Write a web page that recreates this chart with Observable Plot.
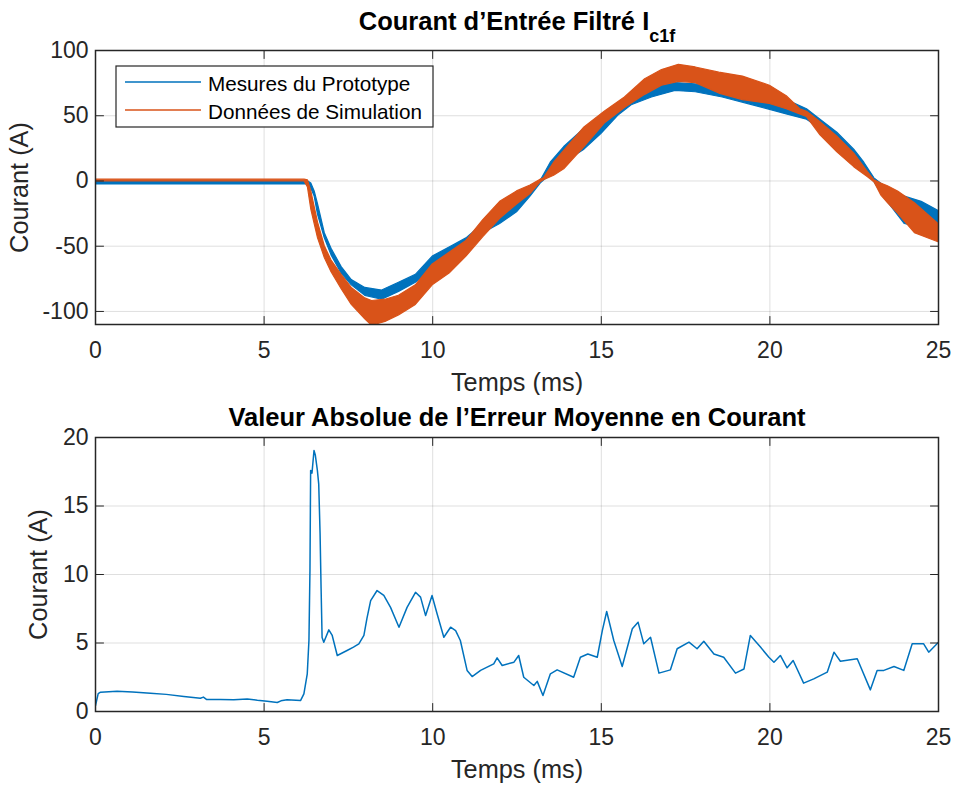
<!DOCTYPE html>
<html>
<head>
<meta charset="utf-8">
<script src="https://cdn.jsdelivr.net/npm/d3@7"></script>
<script src="https://cdn.jsdelivr.net/npm/@observablehq/plot@0.6"></script>
<style>
  body { margin: 0; background: #fff; }
  #root { position: relative; width: 955px; height: 785px; background: #fff; overflow: hidden; }
  #root > svg { position: absolute; left: 0; }
</style>
</head>
<body>
<div id="root"></div>
<script>
// ---------- data ----------
const BLUE = "#0072BD";
const ORANGE = "#D95319";
const INK = "#262626";

const timeTicks = [0, 5, 10, 15, 20, 25];
const topYTicks = [-100, -50, 0, 50, 100];
const botYTicks = [0, 5, 10, 15, 20];

const seriesNames = ["Mesures du Prototype", "Données de Simulation"];

// Simulation (orange) band: time (ms), lower and upper envelope (A)
const simT  = [0, 6.2, 6.3, 6.4, 6.5, 6.6, 6.8, 7.0, 7.3, 7.6, 8.0, 8.2, 8.6, 9.0, 9.5, 10.0, 10.5, 11.0, 11.5, 12.0, 12.5, 12.9, 13.2, 13.3, 13.6, 13.9, 14.5, 15.1, 15.7, 16.3, 16.8, 17.3, 17.8, 18.5, 19.2, 20.0, 20.5, 20.9, 21.1, 21.5, 22.0, 22.5, 22.9, 23.1, 23.3, 23.5, 23.8, 24.3, 25.0];
const simLo = [-0.3, -0.3, -5, -22, -33, -44, -59, -70, -83, -95, -106, -111, -108, -103, -95, -80, -71, -58, -43, -29, -18, -10, -1, 0.5, 4, 9, 26, 44, 56, 66, 73, 76, 75, 67, 62, 59, 55, 51, 49, 35, 22, 10.6, 3, -1, -11, -17, -25, -40, -47];
const simHi = [1.0, 1.0, 0.5, -8, -20, -32, -50, -61, -72, -82, -90, -92, -91, -88, -80, -64, -55, -46, -30, -16, -8, -3.5, 1, 2, 14, 23, 41, 53, 64, 78, 85, 89, 87, 83, 80, 73, 65, 55, 53, 45, 34, 21, 7, 0.5, -2, -4, -8, -17, -33];

// Measurement (blue) band
const measT  = [0, 6.3, 6.4, 6.5, 6.6, 6.8, 7.0, 7.3, 7.6, 8.0, 8.5, 9.0, 9.5, 10.0, 10.5, 11.0, 11.5, 12.0, 12.5, 12.9, 13.2, 13.5, 13.9, 14.5, 15.0, 15.5, 15.9, 16.5, 17.2, 17.8, 18.6, 19.5, 20.5, 21.1, 21.5, 22.0, 22.5, 22.8, 23.1, 23.4, 24.0, 24.5, 25.0];
const measLo = [-2.7, -2.7, -6, -12, -26, -44, -57, -71, -80, -88, -91, -85, -78, -68, -58, -47, -40, -33, -24, -12, -2, 5, 14, 24, 36, 50, 58, 64, 69, 68, 64, 58, 51, 47, 40, 28, 16, 8, -1, -13, -33, -36, -43];
const measHi = [-0.2, -0.2, -2, -8, -18, -40, -52, -66, -76, -82, -84, -78, -72, -58, -51, -44, -33, -21, -12, -5, 0, 14, 26, 40, 46, 56, 66, 72, 75, 74, 72, 68, 62, 55, 47, 37, 24, 14, 2, -4, -12, -16, -23];

// Absolute value of mean error (A)
const errT = [0, 0.08, 0.15, 0.64, 1.1, 1.63, 2.1, 2.62, 3.11, 3.2, 3.3, 3.7, 4.1, 4.5, 4.8, 5.09, 5.39, 5.5, 5.68, 6.08, 6.18, 6.28, 6.33, 6.36, 6.38, 6.42, 6.48, 6.52, 6.58, 6.62, 6.66, 6.69, 6.72, 6.77, 6.92, 7.02, 7.17, 7.3, 7.46, 7.65, 7.81, 7.96, 8.05, 8.16, 8.35, 8.55, 8.75, 9.0, 9.24, 9.49, 9.64, 9.79, 9.98, 10.13, 10.33, 10.53, 10.68, 10.82, 11.02, 11.17, 11.42, 11.81, 11.91, 12.06, 12.41, 12.55, 12.7, 13.0, 13.1, 13.27, 13.49, 13.69, 14.18, 14.38, 14.6, 14.88, 15.03, 15.16, 15.37, 15.62, 15.92, 16.09, 16.26, 16.46, 16.71, 17.05, 17.25, 17.6, 17.84, 18.04, 18.34, 18.63, 18.98, 19.23, 19.42, 19.72, 19.97, 20.12, 20.31, 20.51, 20.69, 21.0, 21.3, 21.7, 21.9, 22.09, 22.59, 22.98, 23.18, 23.38, 23.68, 23.97, 24.22, 24.56, 24.71, 25.0];
const errV = [0.44, 1.3, 1.41, 1.48, 1.42, 1.34, 1.25, 1.1, 0.97, 1.05, 0.87, 0.88, 0.85, 0.92, 0.82, 0.75, 0.66, 0.78, 0.85, 0.8, 1.29, 2.75, 5.2, 10.3, 17.6, 17.4, 19.05, 18.7, 17.6, 16.6, 13, 9, 5.4, 5.06, 5.96, 5.55, 4.09, 4.25, 4.45, 4.7, 4.94, 5.55, 6.8, 8.1, 8.83, 8.47, 7.6, 6.15, 7.6, 8.7, 8.35, 7.0, 8.47, 7.13, 5.42, 6.15, 5.9, 5.18, 3.0, 2.55, 3.0, 3.48, 3.92, 3.36, 3.6, 4.09, 2.5, 1.9, 2.2, 1.17, 2.75, 3.04, 2.5, 3.96, 4.2, 3.96, 5.9, 7.3, 5.18, 3.28, 6.04, 6.52, 4.94, 5.42, 2.8, 3.04, 4.58, 5.06, 4.58, 5.13, 4.2, 3.96, 2.8, 3.1, 5.55, 4.7, 3.96, 3.6, 4.09, 3.19, 3.72, 2.07, 2.38, 2.87, 4.33, 3.67, 3.85, 1.58, 3.0, 3.0, 3.28, 3.0, 4.94, 4.94, 4.33, 5.06];

// ---------- tables built from the arrays ----------
const simRows  = simT.map((t, i) => ({t, lo: simLo[i], hi: simHi[i]}));
const measRows = measT.map((t, i) => ({t, lo: measLo[i], hi: measHi[i]}));
const errRows  = errT.map((t, i) => ({t, v: errV[i]}));

const FONT = "'Liberation Sans', Arial, Helvetica, sans-serif";
const tickShape = {draw(ctx, l) { ctx.moveTo(0, 0); ctx.lineTo(0, -l); }};

function gridMarks(xTicks, yTicks) {
  return [
    Plot.gridX(xTicks, {stroke: INK, strokeOpacity: 0.15, strokeWidth: 1}),
    Plot.gridY(yTicks, {stroke: INK, strokeOpacity: 0.15, strokeWidth: 1}),
  ];
}
function frameMarks(xTicks, yTicks, xd, yd) {
  const common = {length: 8, anchor: "start", shape: tickShape, stroke: INK, strokeWidth: 1};
  return [
    Plot.vector(yTicks, {...common, x: () => xd[0], y: d => d, rotate: 90}),
    Plot.vector(yTicks, {...common, x: () => xd[1], y: d => d, rotate: -90}),
    Plot.vector(xTicks, {...common, x: d => d, y: () => yd[0], rotate: 0}),
    Plot.vector(xTicks, {...common, x: d => d, y: () => yd[1], rotate: 180}),
    Plot.frame({stroke: INK, strokeWidth: 1.5}),
    Plot.axisX(xTicks, {tickSize: 0, tickPadding: 17, label: null, tickFormat: d => String(d)}),
    Plot.axisY(yTicks, {tickSize: 0, tickPadding: 7, label: null, tickFormat: d => String(d)})
  ];
}
function labelMarks(title, yLabelDx, titleDy) {
  const base = {textAnchor: "middle", lineAnchor: "middle", fontSize: 25.3};
  return [
    Plot.text(["Temps (ms)"], {...base, frameAnchor: "bottom", dy: 58, fill: INK}),
    Plot.text(["Courant (A)"], {...base, frameAnchor: "left", rotate: -90, dx: yLabelDx, fill: INK}),
    Plot.text([title], {...base, frameAnchor: "top", dy: titleDy, fontSize: 25.5, fontWeight: "bold", fill: "#000"})
  ];
}

const xd = [0, 25];
const topYd = [-110, 100];
const botYd = [0, 20];

const topTitle = "Courant d’Entrée Filtré I";
const topPlot = Plot.plot({
  width: 955, height: 395,
  marginTop: 50, marginBottom: 71, marginLeft: 95, marginRight: 17,
  x: {domain: xd},
  y: {domain: topYd},
  style: {fontFamily: FONT, fontSize: "23px", color: INK, background: "transparent"},
  marks: [
    ...gridMarks(timeTicks, topYTicks),
    Plot.areaY(measRows, {x: "t", y1: "lo", y2: "hi", fill: BLUE, stroke: BLUE, strokeWidth: 1.2, clip: true}),
    Plot.areaY(simRows, {x: "t", y1: "lo", y2: "hi", fill: ORANGE, stroke: ORANGE, strokeWidth: 1.2, clip: true}),
    ...frameMarks(timeTicks, topYTicks, xd, topYd),
    ...labelMarks(topTitle, -76, -28.6)
  ]
});
topPlot.style.top = "0px";

const botTitle = "Valeur Absolue de l’Erreur Moyenne en Courant";
const botPlot = Plot.plot({
  width: 955, height: 390,
  marginTop: 42, marginBottom: 74, marginLeft: 95, marginRight: 17,
  x: {domain: xd},
  y: {domain: botYd},
  style: {fontFamily: FONT, fontSize: "23px", color: INK, background: "transparent"},
  marks: [
    ...gridMarks(timeTicks, botYTicks),
    Plot.line(errRows, {x: "t", y: "v", stroke: BLUE, strokeWidth: 1.5, clip: true}),
    ...frameMarks(timeTicks, botYTicks, xd, botYd),
    ...labelMarks(botTitle, -57, -20.1)
  ]
});
botPlot.style.top = "395px";

const root = document.getElementById("root");
root.appendChild(topPlot);
root.appendChild(botPlot);

// subscript for the top title
d3.select(topPlot).selectAll("text").filter(function() { return this.textContent === topTitle; })
  .each(function() {
    const t = d3.select(this);
    t.text(null);
    t.append("tspan").text(topTitle);
    t.append("tspan").attr("dy", 12).attr("font-size", 18).text("c1f");
  });

// legend
const leg = d3.select(root).append("svg")
  .attr("width", 320).attr("height", 64)
  .style("position", "absolute").style("left", "115px").style("top", "65px");
leg.append("rect").attr("x", 1).attr("y", 1).attr("width", 317).attr("height", 61)
  .attr("fill", "#fff").attr("stroke", INK).attr("stroke-width", 1.2);
[BLUE, ORANGE].forEach((c, i) => {
  const y = 17 + i * 28;
  leg.append("line").attr("x1", 10).attr("x2", 86).attr("y1", y).attr("y2", y)
    .attr("stroke", c).attr("stroke-width", 1.5);
  leg.append("text").attr("x", 93).attr("y", y + 9)
    .attr("font-family", FONT).attr("font-size", 20.7).attr("fill", "#000")
    .text(seriesNames[i]);
});
</script>
</body>
</html>
